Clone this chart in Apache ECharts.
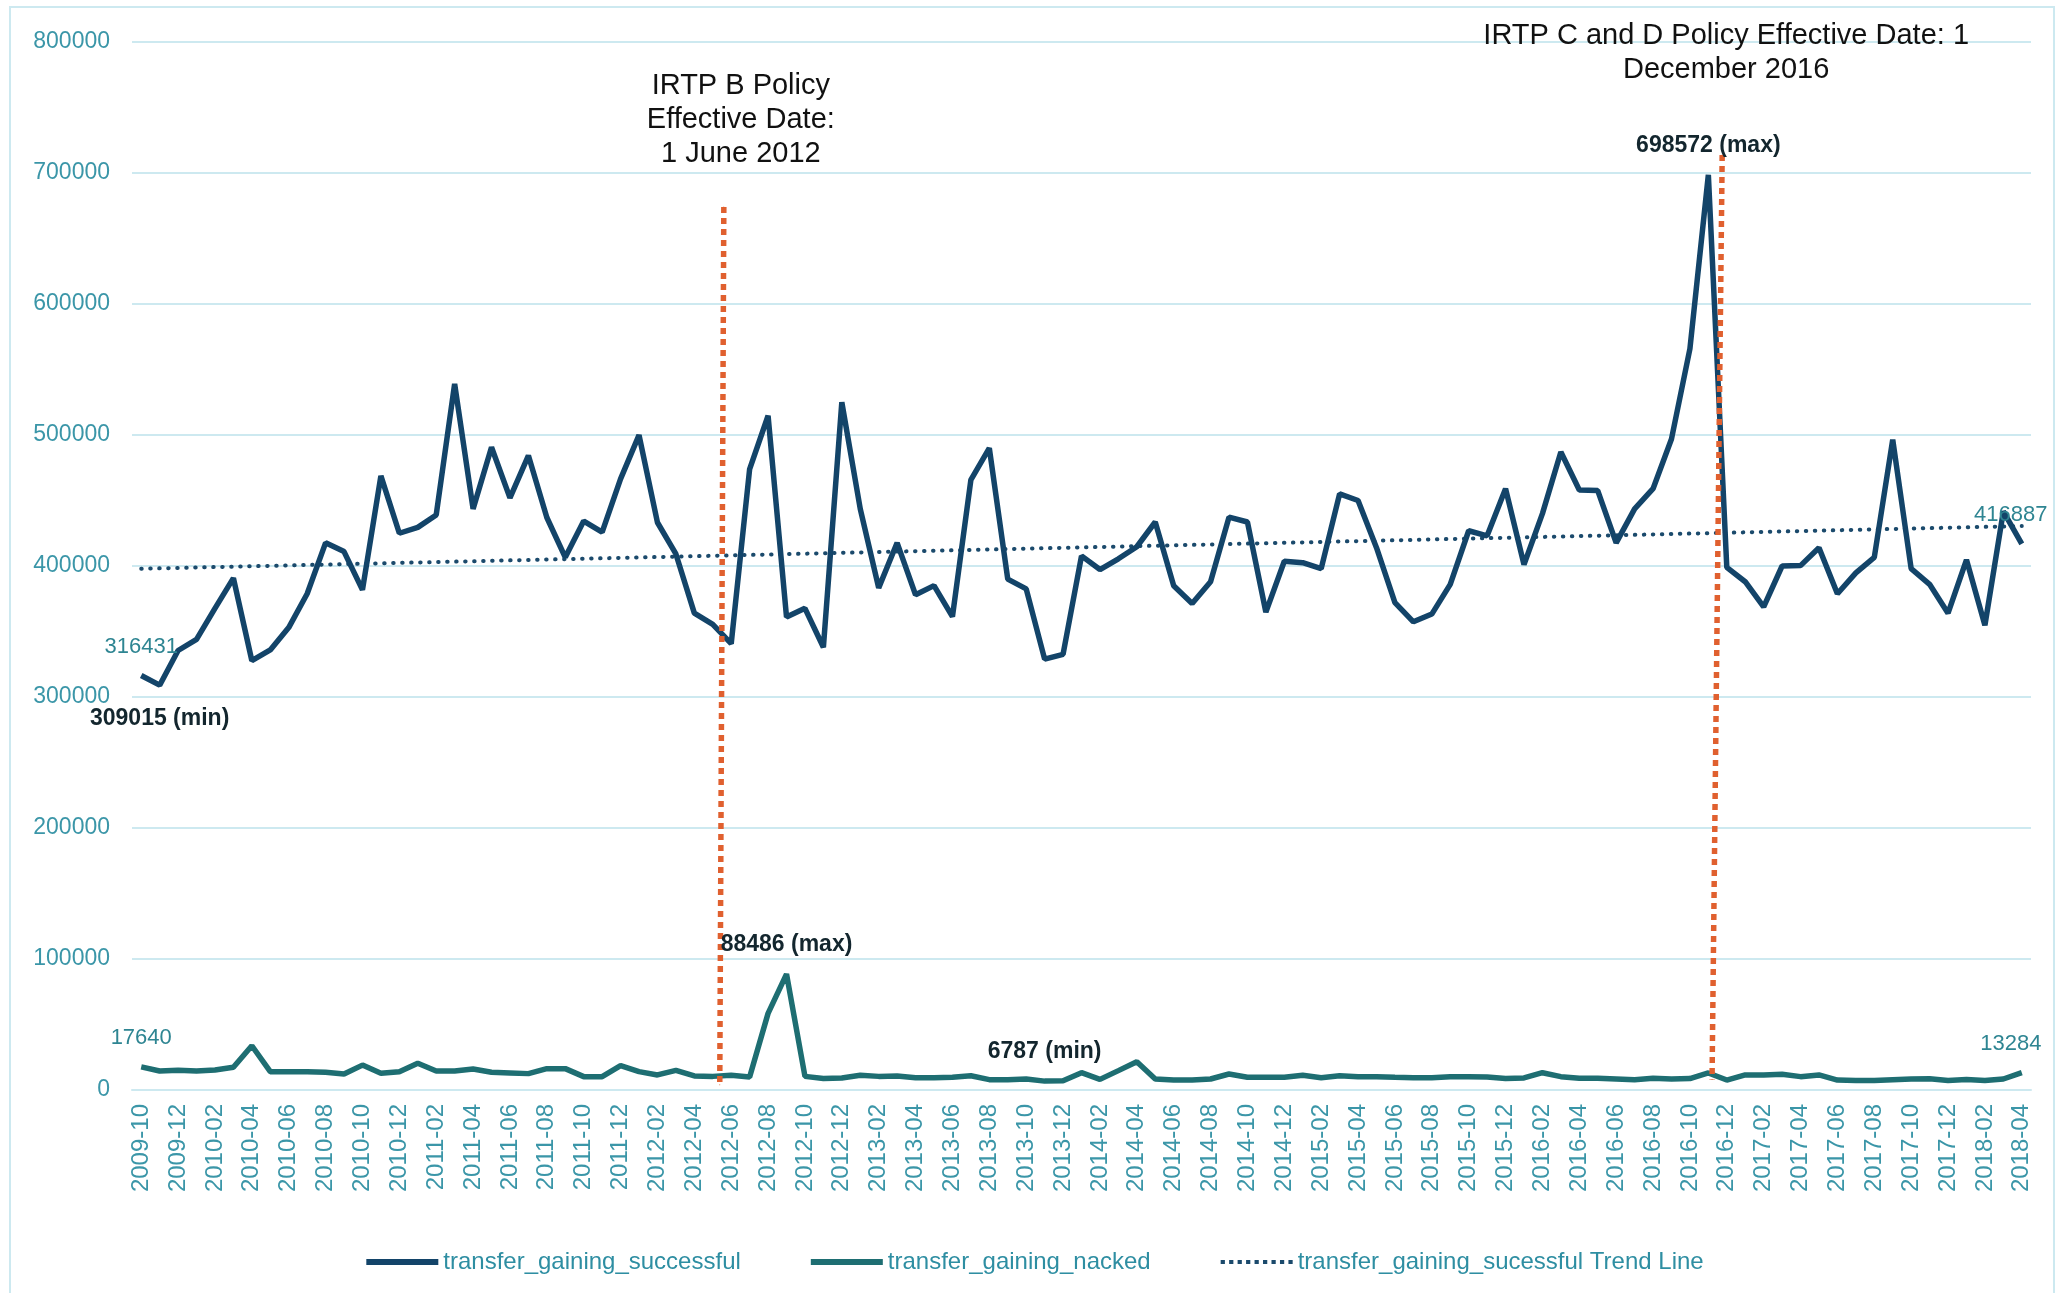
<!DOCTYPE html>
<html>
<head>
<meta charset="utf-8">
<title>IRTP transfers</title>
<script src="https://cdn.jsdelivr.net/npm/echarts/dist/echarts.min.js"></script>
<style>
  html, body { margin: 0; padding: 0; background: #fff; }
  #chart { width: 2070px; height: 1293px; }
</style>
</head>
<body>
<div id="chart"></div>
<script>
  const categories = [
    '2009-10', '2009-11', '2009-12',
    '2010-01', '2010-02', '2010-03', '2010-04', '2010-05', '2010-06', '2010-07', '2010-08', '2010-09', '2010-10', '2010-11', '2010-12',
    '2011-01', '2011-02', '2011-03', '2011-04', '2011-05', '2011-06', '2011-07', '2011-08', '2011-09', '2011-10', '2011-11', '2011-12',
    '2012-01', '2012-02', '2012-03', '2012-04', '2012-05', '2012-06', '2012-07', '2012-08', '2012-09', '2012-10', '2012-11', '2012-12',
    '2013-01', '2013-02', '2013-03', '2013-04', '2013-05', '2013-06', '2013-07', '2013-08', '2013-09', '2013-10', '2013-11', '2013-12',
    '2014-01', '2014-02', '2014-03', '2014-04', '2014-05', '2014-06', '2014-07', '2014-08', '2014-09', '2014-10', '2014-11', '2014-12',
    '2015-01', '2015-02', '2015-03', '2015-04', '2015-05', '2015-06', '2015-07', '2015-08', '2015-09', '2015-10', '2015-11', '2015-12',
    '2016-01', '2016-02', '2016-03', '2016-04', '2016-05', '2016-06', '2016-07', '2016-08', '2016-09', '2016-10', '2016-11', '2016-12',
    '2017-01', '2017-02', '2017-03', '2017-04', '2017-05', '2017-06', '2017-07', '2017-08', '2017-09', '2017-10', '2017-11', '2017-12',
    '2018-01', '2018-02', '2018-03', '2018-04'
  ];

  const successful = [
    316431, 309015, 335500,
    344000, 367700, 390700, 327800, 335900, 353000, 378800, 417700, 411000, 381800, 468800, 425000,
    429500, 439000, 539000, 443600, 490600, 452000, 484300, 437000, 406600, 434300, 425800, 466500,
    499900, 433200, 409200, 364000, 355500, 340700, 474000, 514700, 361000, 367700, 338000, 525000,
    443600, 383300, 417700, 378000, 385000, 361400, 465800, 489900, 390000, 382500, 328900, 332600,
    407700, 397300, 405500, 414700, 433600, 385000, 371400, 388000, 437300, 433600, 364800, 403600,
    402500, 398000, 455000, 450000, 414000, 372000, 357400, 363300, 386000, 426900, 423000, 459000,
    401000, 440000, 487000, 458000, 457600, 417700, 443600, 459000, 497000, 565800, 698572, 399000,
    388000, 368800, 400000, 400300, 414000, 378800, 394700, 406600, 496500, 398000, 386000, 364000,
    404700, 354800, 441700, 416887
  ];

  const nacked = [
    17640, 14500, 15000,
    14500, 15300, 17300, 33800, 14000, 14000, 14000, 13500, 12200, 19000, 12700, 14000,
    20400, 14500, 14500, 16000, 13500, 13000, 12500, 16300, 16300, 10200, 10200, 18600,
    14000, 11500, 15000, 10700, 10400, 11200, 10000, 58500, 88486, 10400, 8700, 9200,
    11200, 10400, 10700, 9400, 9400, 9700, 10900, 7900, 7900, 8400, 6787, 7000,
    13200, 8100, 14800, 21600, 8400, 7600, 7600, 8400, 12200, 9700, 9700, 9700,
    11200, 9400, 10900, 10200, 10200, 9700, 9400, 9400, 10200, 10200, 10000, 8700,
    9200, 13200, 10200, 8900, 8900, 8400, 7900, 8900, 8400, 8700, 13000, 7600,
    11500, 11500, 12000, 10200, 11500, 7600, 7200, 7300, 7900, 8400, 8600, 7300,
    8000, 7300, 8400, 13284
  ];

  // trend line read at first and last month
  const trendIndex = [0, 102];
  const trendValues = [397900, 430500];

  // policy markers: [month index, value] at top and bottom of each dotted line
  const policyB = [[31.6, 674000], [31.38, 4000]];
  const policyCD = [[85.75, 713700], [85.2, 8000]];
  const policyBText = 'IRTP B Policy\nEffective Date:\n1 June 2012';
  const policyCDText = 'IRTP C and D Policy Effective Date: 1\nDecember 2016';

  // [index, kind] of labelled points
  const successfulMarks = [[0, ''], [1, 'min'], [85, 'max'], [102, '']];
  const nackedMarks = [[0, ''], [35, 'max'], [49, 'min'], [102, '']];

  const yTicks = [0, 800000, 100000];

  const seriesNames = [
    'transfer_gaining_successful',
    'transfer_gaining_nacked',
    'transfer_gaining_sucessful Trend Line'
  ];

  const FONT = "'Liberation Sans', Arial, sans-serif";
  const TEAL = '#3b96a8';
  const GRID_LINE = '#cde9f0';
  const NAVY = '#134469';
  const GREEN = '#1e6e72';

  // legend icons: a thick bar for the lines, a row of dots for the trend
  const ICON_SOLID = 'path://M0,0h72v6h-72z';
  const ICON_DOTS = 'path://M0,0h4v4h-4z M8,0h4v4h-4z M16,0h4v4h-4z M24,0h4v4h-4z M32,0h4v4h-4z M40,0h4v4h-4z M48,0h4v4h-4z M56,0h4v4h-4z M64,0h4v4h-4z';

  function buildMarks(values, marks, minBelow) {
    return marks.map(function (m) {
      const idx = m[0];
      const kind = m[1];
      const bold = kind !== '';
      const below = kind === 'min' && minBelow;
      let dx = 0;
      if (idx === values.length - 1) dx = -11;
      return {
        coord: [categories[idx], values[idx]],
        value: values[idx],
        label: {
          show: true,
          position: below ? 'bottom' : 'top',
          distance: below ? 21 : 17,
          offset: [dx, 0],
          formatter: bold ? values[idx] + ' (' + kind + ')' : String(values[idx]),
          fontFamily: FONT,
          fontSize: bold ? 23 : 22,
          fontWeight: bold ? 'bold' : 'normal',
          color: bold ? '#13262e' : '#2e8592'
        }
      };
    });
  }

  function policySeries(points, text, distance, dx) {
    return {
      type: 'line',
      xAxisIndex: 1,
      silent: true,
      symbol: 'circle',
      symbolSize: 1,
      showSymbol: true,
      itemStyle: { color: '#e0602f' },
      lineStyle: { color: '#e0602f', width: 5.5, type: [6, 5] },
      z: 4,
      data: [
        {
          value: points[0],
          label: {
            show: true,
            position: 'top',
            distance: distance,
            offset: [dx, 0],
            formatter: text,
            fontFamily: FONT,
            fontSize: 29,
            lineHeight: 34,
            color: '#111',
            align: 'center'
          }
        },
        { value: points[1] }
      ]
    };
  }

  function initChart() {
    const chart = echarts.init(document.getElementById('chart'), null, { renderer: 'canvas' });
    setOptions(chart);
  }

  function setOptions(chart) {
    chart.setOption({
      animation: false,
      backgroundColor: '#fff',
      textStyle: { fontFamily: FONT },
      graphic: [{
        type: 'rect',
        shape: { x: 10, y: 7, width: 2044, height: 1300 },
        style: { fill: 'none', stroke: GRID_LINE, lineWidth: 2 },
        silent: true
      }],
      grid: {
        left: 132,
        right: 39,
        top: 42,
        bottom: 203,
        containLabel: false
      },
      legend: {
        data: [
          { name: seriesNames[0], icon: ICON_SOLID },
          { name: seriesNames[1], icon: ICON_SOLID },
          { name: seriesNames[2], icon: ICON_DOTS }
        ],
        bottom: 14,
        left: 'center',
        itemWidth: 72,
        itemHeight: 20,
        itemGap: 70,
        textStyle: { fontFamily: FONT, fontSize: 24, color: '#2e8ea2' }
      },
      xAxis: [{
        type: 'category',
        data: categories,
        boundaryGap: true,
        axisTick: { show: false },
        axisLine: { lineStyle: { color: GRID_LINE, width: 2 } },
        axisLabel: {
          interval: 1,
          rotate: 90,
          margin: 14,
          fontFamily: FONT,
          fontSize: 24,
          color: TEAL
        }
      }, {
        type: 'value',
        show: false,
        min: -0.5,
        max: categories.length - 0.5
      }],
      yAxis: {
        type: 'value',
        min: yTicks[0],
        max: yTicks[1],
        interval: yTicks[2],
        axisLine: { show: false },
        axisTick: { show: false },
        splitLine: { lineStyle: { color: GRID_LINE, width: 2 } },
        axisLabel: {
          margin: 22,
          fontFamily: FONT,
          fontSize: 23,
          color: TEAL,
          formatter: function (v) { return String(v); }
        }
      },
      series: [{
        name: seriesNames[0],
        type: 'line',
        symbol: 'none',
        data: successful,
        lineStyle: { color: NAVY, width: 5.5 },
        itemStyle: { color: NAVY },
        z: 3,
        markPoint: {
          symbol: 'circle',
          symbolSize: 1,
          itemStyle: { color: 'rgba(0,0,0,0)' },
          data: buildMarks(successful, successfulMarks, true)
        }
      }, {
        name: seriesNames[1],
        type: 'line',
        symbol: 'none',
        data: nacked,
        lineStyle: { color: GREEN, width: 5.5 },
        itemStyle: { color: GREEN },
        z: 3,
        markPoint: {
          symbol: 'circle',
          symbolSize: 1,
          itemStyle: { color: 'rgba(0,0,0,0)' },
          data: buildMarks(nacked, nackedMarks, false)
        }
      }, {
        name: seriesNames[2],
        type: 'line',
        xAxisIndex: 1,
        symbol: 'none',
        data: trendIndex.map(function (x, i) { return [x, trendValues[i]]; }),
        lineStyle: { color: '#1b4a6c', width: 4, type: [0.5, 8.5], cap: 'round' },
        itemStyle: { color: '#1b4a6c' },
        z: 2
      },
      policySeries(policyB, policyBText, 36, 17),
      policySeries(policyCD, policyCDText, 68, 4)
      ]
    });
  }

  initChart();
</script>
</body>
</html>
